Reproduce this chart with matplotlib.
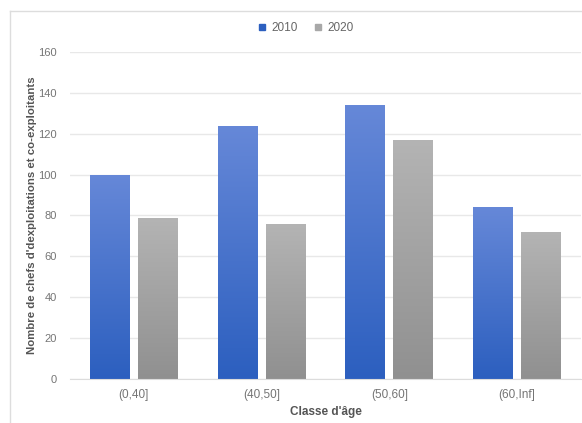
import numpy as np
import matplotlib.pyplot as plt
from matplotlib.colors import LinearSegmentedColormap
from matplotlib.lines import Line2D

categories = ['(0,40]', '(40,50]', '(50,60]', '(60,Inf]']
years = ['2010', '2020']
values_2010 = [100, 124, 134, 84]
values_2020 = [79, 76, 117, 72]
yticks = [0, 20, 40, 60, 80, 100, 120, 140, 160]

plt.rcParams['font.family'] = ['Liberation Sans', 'DejaVu Sans']

W, H = 582, 423
fig = plt.figure(figsize=(W / 100, H / 100), dpi=100)
ax = fig.add_axes([70 / W, 1 - 379 / H, 511 / W, (379 - 52) / H])

grads = {
    '2010': ('#6688d8', '#2c5fbf'),
    '2020': ('#b4b4b4', '#909090'),
}
x = np.arange(len(categories))
width = 0.3125
offsets = [-0.1875, 0.1875]
gradient = np.linspace(0, 1, 256).reshape(-1, 1)

for year, vals, off in zip(years, [values_2010, values_2020], offsets):
    top, bottom = grads[year]
    cmap = LinearSegmentedColormap.from_list('g' + year, [bottom, top])
    bars = ax.bar(x + off, vals, width, color=bottom, zorder=2)
    for b in bars:
        b.set_facecolor('none')
        b.set_edgecolor('none')
        x0, y0 = b.get_x(), b.get_y()
        im = ax.imshow(gradient, cmap=cmap, aspect='auto', origin='lower',
                       extent=[x0, x0 + b.get_width(), y0, y0 + b.get_height()],
                       zorder=2)
        im.set_clip_path(b)

ax.set_xlim(-0.5, 3.5)
ax.set_ylim(0, 160)
ax.set_yticks(yticks)
ax.set_xticks(x)
ax.set_xticklabels(categories)
ax.grid(axis='y', color='#e8e8e8', linewidth=1, zorder=0)
ax.set_axisbelow(True)
for s in ['top', 'right', 'left']:
    ax.spines[s].set_visible(False)
ax.spines['bottom'].set_color('#dcdcdc')
ax.tick_params(axis='both', length=0, colors='#757575', labelsize=8.5)
ax.tick_params(axis='y', pad=9.5, labelsize=8)
ax.tick_params(axis='x', pad=7)
ax.set_xlabel("Classe d'âge", fontsize=8.5, fontweight='bold', color='#555555', labelpad=4)
ax.set_ylabel("Nombre de chefs d'dexploitations et co-exploitants", fontsize=8.2,
              fontweight='bold', color='#555555', labelpad=1)

handles = [Line2D([], [], marker='s', linestyle='none', markersize=4.5,
                  color=grads[y][1] if y == '2010' else '#a8a8a8') for y in years]
fig.legend(handles, years, loc='center', bbox_to_anchor=(305 / W, 1 - 28 / H), ncol=2,
           frameon=False, fontsize=8.5, labelcolor='#666666', handletextpad=0.3,
           columnspacing=1.2, handlelength=1)

fig.add_artist(Line2D([10 / W, 10 / W], [0, 1 - 11 / H], color='#dddddd', linewidth=1))
fig.add_artist(Line2D([10 / W, 1], [1 - 11 / H, 1 - 11 / H], color='#dddddd', linewidth=1))

fig.savefig('out.png', dpi=100)
